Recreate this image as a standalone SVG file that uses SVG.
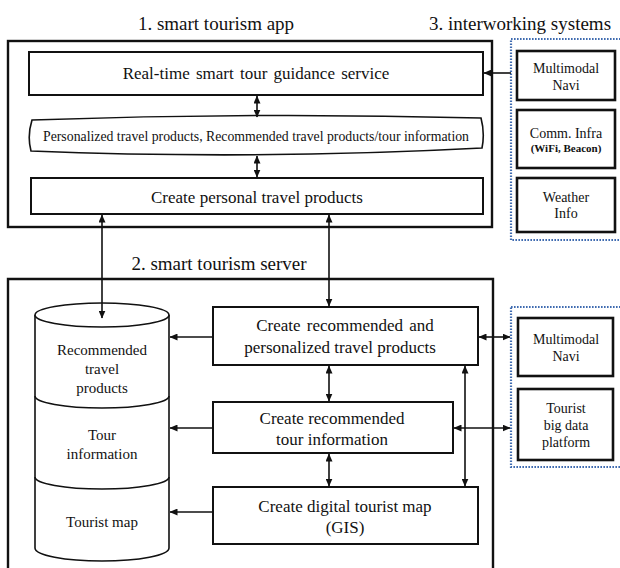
<svg xmlns="http://www.w3.org/2000/svg" width="620" height="568" viewBox="0 0 620 568" font-family="Liberation Serif, serif">
  <style>
    text { fill: #111; text-anchor: middle; }
    .title { font-size: 19px; }
    .lbl { font-size: 17px; }
    .db { font-size: 15px; }
    .sm { font-size: 14px; }
    .xs { font-size: 11px; font-weight: bold; }
    .box { fill: #fff; stroke: #111; stroke-width: 2; }
    .frame { fill: none; stroke: #111; stroke-width: 2.4; }
    .ext { fill: #fff; stroke: #111; stroke-width: 2.6; }
    .dots { fill: none; stroke: #3f6bb0; stroke-width: 2.2; stroke-dasharray: 1.6 1.4; }
    .line { fill: none; stroke: #111; stroke-width: 1.6; }
    .shape { fill: #fff; stroke: #111; stroke-width: 1.6; }
  </style>
  <defs>
    <marker id="ah" markerUnits="userSpaceOnUse" markerWidth="8" markerHeight="7" refX="7.5" refY="3.5" orient="auto-start-reverse">
      <path d="M0,0 L8,3.5 L0,7 z" fill="#111"/>
    </marker>
  </defs>

  <!-- section titles -->
  <text class="title" x="216" y="30">1. smart tourism app</text>
  <text class="title" x="520" y="30">3. interworking systems</text>
  <text class="title" x="219" y="270">2. smart tourism server</text>

  <!-- frames -->
  <rect class="frame" x="8" y="41" width="484" height="186"/>
  <path class="frame" d="M8,572 V279 H493 V572"/>
  <rect class="dots" x="511" y="39" width="120" height="201"/>
  <rect class="dots" x="511" y="307" width="120" height="160"/>

  <!-- app nodes -->
  <g id="guidance">
    <rect class="box" x="29" y="52" width="454" height="43"/>
    <text class="lbl" x="256" y="79" word-spacing="2">Real-time smart tour guidance service</text>
  </g>
  <g id="app-data">
    <path class="shape" d="M32,120 Q256,112 481,118 Q485,133 482,148 Q256,160 31,151 Q27,136 32,120 Z"/>
    <text class="sm" x="256" y="141" textLength="426" lengthAdjust="spacingAndGlyphs">Personalized travel products, Recommended travel products/tour information</text>
  </g>
  <g id="personal-products">
    <rect class="box" x="31" y="178" width="452" height="36"/>
    <text class="lbl" x="257" y="203">Create personal travel products</text>
  </g>

  <!-- interworking nodes (app) -->
  <g id="navi-top">
    <rect class="ext" x="517" y="51" width="98" height="49"/>
    <text class="sm" x="566" y="73">Multimodal</text>
    <text class="sm" x="566" y="90">Navi</text>
  </g>
  <g id="comm-infra">
    <rect class="ext" x="517" y="110" width="98" height="58"/>
    <text class="sm" x="566" y="138">Comm. Infra</text>
    <text class="xs" x="566" y="152">(WiFi, Beacon)</text>
  </g>
  <g id="weather">
    <rect class="ext" x="517" y="178" width="98" height="54"/>
    <text class="sm" x="566" y="202">Weather</text>
    <text class="sm" x="566" y="218">Info</text>
  </g>

  <!-- server database -->
  <g id="database">
    <path class="shape" d="M35,315 V548 A67,13 0 0 0 169,548 V315"/>
    <ellipse class="shape" cx="102" cy="315" rx="67" ry="12"/>
    <path class="line" d="M35,396 A67,12 0 0 0 169,396"/>
    <path class="line" d="M35,477 A67,12 0 0 0 169,477"/>
    <text class="db" x="102" y="355">Recommended</text>
    <text class="db" x="102" y="374">travel</text>
    <text class="db" x="102" y="393">products</text>
    <text class="db" x="102" y="440">Tour</text>
    <text class="db" x="102" y="459">information</text>
    <text class="db" x="102" y="527">Tourist map</text>
  </g>

  <!-- server process nodes -->
  <g id="rec-products">
    <rect class="box" x="213" y="307" width="265" height="58"/>
    <text class="lbl" x="345" y="331" word-spacing="2">Create recommended and</text>
    <text class="lbl" x="340" y="353">personalized travel products</text>
  </g>
  <g id="rec-tour">
    <rect class="box" x="213" y="402" width="240" height="51"/>
    <text class="lbl" x="332" y="424">Create recommended</text>
    <text class="lbl" x="332" y="445">tour information</text>
  </g>
  <g id="tourist-map">
    <rect class="box" x="213" y="487" width="265" height="57"/>
    <text class="lbl" x="345" y="512">Create digital tourist map</text>
    <text class="lbl" x="345" y="533">(GIS)</text>
  </g>

  <!-- interworking nodes (server) -->
  <g id="navi-bottom">
    <rect class="ext" x="518" y="318" width="95" height="58"/>
    <text class="sm" x="566" y="344">Multimodal</text>
    <text class="sm" x="566" y="361">Navi</text>
  </g>
  <g id="big-data">
    <rect class="ext" x="518" y="389" width="95" height="71"/>
    <text class="sm" x="566" y="413">Tourist</text>
    <text class="sm" x="566" y="430">big data</text>
    <text class="sm" x="566" y="447">platform</text>
  </g>

  <!-- connectors -->
  <g id="connectors">
    <line class="line" x1="257" y1="96" x2="257" y2="117" marker-start="url(#ah)" marker-end="url(#ah)"/>
    <line class="line" x1="257" y1="156" x2="257" y2="177" marker-start="url(#ah)" marker-end="url(#ah)"/>
    <line class="line" x1="511" y1="73" x2="484" y2="73" marker-end="url(#ah)"/>
    <line class="line" x1="102" y1="215" x2="102" y2="318" marker-start="url(#ah)" marker-end="url(#ah)"/>
    <line class="line" x1="329" y1="215" x2="329" y2="306" marker-start="url(#ah)" marker-end="url(#ah)"/>
    <line class="line" x1="213" y1="337" x2="170" y2="337" marker-end="url(#ah)"/>
    <line class="line" x1="213" y1="428" x2="170" y2="428" marker-end="url(#ah)"/>
    <line class="line" x1="213" y1="512" x2="170" y2="512" marker-end="url(#ah)"/>
    <line class="line" x1="329" y1="366" x2="329" y2="401" marker-start="url(#ah)" marker-end="url(#ah)"/>
    <line class="line" x1="329" y1="454" x2="329" y2="486" marker-start="url(#ah)" marker-end="url(#ah)"/>
    <line class="line" x1="465" y1="366" x2="465" y2="486" marker-start="url(#ah)" marker-end="url(#ah)"/>
    <line class="line" x1="479" y1="337" x2="510" y2="337" marker-start="url(#ah)" marker-end="url(#ah)"/>
    <line class="line" x1="454" y1="428" x2="510" y2="428" marker-start="url(#ah)" marker-end="url(#ah)"/>
  </g>
</svg>
